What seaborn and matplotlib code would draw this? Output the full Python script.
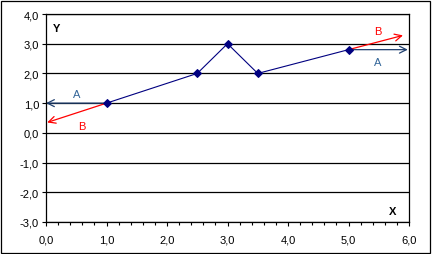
import matplotlib
matplotlib.use("Agg")
import matplotlib.pyplot as plt
import seaborn as sns
import pandas as pd
import numpy as np
from matplotlib.ticker import MultipleLocator, FuncFormatter

sns.set_theme(style="white")
plt.rcParams['font.family'] = ['Liberation Sans', 'DejaVu Sans']

x_vals = [1.0, 2.5, 3.0, 3.5, 5.0]
y_vals = [1.0, 2.0, 3.0, 2.0, 2.8]

# tangent / horizontal arrows at the ends
arrow_A_left = [(1.0, 1.0), (0.0, 1.0)]
arrow_B_left = [(1.0, 1.0), (0.02, 0.35)]
arrow_A_right = [(5.0, 2.8), (5.98, 2.8)]
arrow_B_right = [(5.0, 2.8), (5.9, 3.28)]

x_ticks = [0, 1, 2, 3, 4, 5, 6]
y_ticks = [-3, -2, -1, 0, 1, 2, 3, 4]

df = pd.DataFrame({"x": x_vals, "y": y_vals})

fig = plt.figure(figsize=(4.32, 2.55), dpi=100)
fig.patch.set_facecolor("white")
ax = fig.add_axes([46/432, 1-223/255, (409-46)/432, (223-15)/255])

for yt in y_ticks:
    ax.axhline(yt, color="black", lw=0.9, zorder=1)

sns.lineplot(data=df, x="x", y="y", sort=False, color="#000080", lw=0.8,
             marker="D", markersize=4.2, markeredgecolor="#000080", ax=ax, zorder=3)

blueA = "#1f3f6f"
red = "#ff0000"
for (s, e), c in [(arrow_A_left, blueA), (arrow_B_left, red),
                  (arrow_A_right, blueA), (arrow_B_right, red)]:
    ax.annotate("", xy=e, xytext=s,
                arrowprops=dict(arrowstyle="->,head_length=0.5,head_width=0.25", color=c, lw=0.9,
                                shrinkA=0, shrinkB=0, mutation_scale=10), zorder=2)

ax.text(0.51, 1.31, "A", color="#336699", fontsize=8, ha="center", va="center")
ax.text(0.6, 0.24, "B", color=red, fontsize=8, ha="center", va="center")
ax.text(5.49, 3.43, "B", color=red, fontsize=8, ha="center", va="center")
ax.text(5.49, 2.39, "A", color="#336699", fontsize=8, ha="center", va="center")
ax.text(0.17, 3.53, "Y", color="black", fontsize=8, fontweight="bold", ha="center", va="center")
ax.text(5.73, -2.63, "X", color="black", fontsize=8, fontweight="bold", ha="center", va="center")

ax.set_xlim(0, 6)
ax.set_ylim(-3, 4)
ax.set_xticks(x_ticks)
ax.set_yticks(y_ticks)
ax.xaxis.set_minor_locator(MultipleLocator(0.2))
fmt = FuncFormatter(lambda v, p: f"{v:.1f}".replace(".", ","))
ax.xaxis.set_major_formatter(fmt)
ax.yaxis.set_major_formatter(fmt)
ax.set_xlabel("")
ax.set_ylabel("")
ax.tick_params(axis="both", which="major", direction="out", length=3, width=0.8,
               colors="black", labelsize=8, pad=2, bottom=True, left=True)
ax.tick_params(axis="x", which="minor", direction="out", length=2, width=0.8,
               colors="black", bottom=True)
ax.tick_params(axis="x", pad=6)
for sp in ax.spines.values():
    sp.set_visible(True)
    sp.set_color("black")
    sp.set_linewidth(0.9)

fig.add_artist(plt.Rectangle((0.002, 0.004), 0.994, 0.99, transform=fig.transFigure,
                             fill=False, edgecolor="black", lw=0.9))

fig.savefig("out.png", dpi=100)
